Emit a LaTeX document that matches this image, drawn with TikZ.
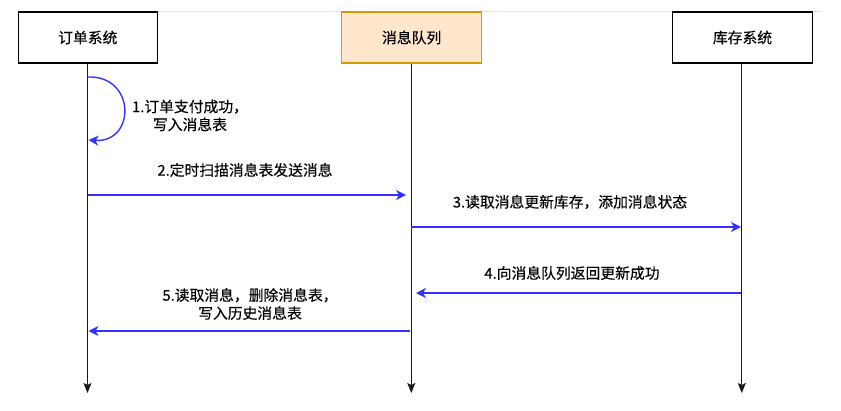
\documentclass[tikz,border=0pt]{standalone}
\usepackage{fontspec}
\setmainfont{Noto Sans CJK SC}
\newfontfamily\lblfont[FakeBold=0.3]{Noto Sans CJK SC}
\usetikzlibrary{arrows.meta}
\definecolor{msgblue}{RGB}{51,51,255}
\definecolor{qfill}{HTML}{FFE6CC}
\definecolor{qdraw}{HTML}{D79B00}
\begin{document}
\begin{tikzpicture}[x=1pt,y=-1pt,
  font=\lblfont\fontsize{14.8}{18}\selectfont,
  actor/.style={draw=black, line width=1.2pt, minimum width=139pt, minimum height=51pt, inner sep=0pt, fill=white},
  lifeline/.style={draw=black!90, line width=1.1pt, -{Stealth[length=10pt,width=8pt,inset=2pt]}},
  msg/.style={draw=msgblue, line width=1.4pt, -{Stealth[length=10pt,width=10pt,inset=3pt]}},
  lbl/.style={align=center, inner sep=0pt}]
\useasboundingbox (0,0) rectangle (841,410);
\draw[black!12, line width=0.8pt] (18,11) -- (820,11);
% actors
\node[actor] (order) at (87.8,37.5) {订单系统};
\node[actor, fill=qfill, draw=qdraw, minimum width=140pt] (queue) at (411.7,37.5) {消息队列};
\node[actor, minimum width=140pt] (stock) at (742.5,37.5) {库存系统};
% lifeline ends
\coordinate (orderEnd) at (87.5,393);
\coordinate (queueEnd) at (411.3,393);
\coordinate (stockEnd) at (741.8,393);
\draw[lifeline] (order.south -| orderEnd) -- (orderEnd);
\draw[lifeline] (queue.south -| queueEnd) -- (queueEnd);
\draw[lifeline] (stock.south -| stockEnd) -- (stockEnd);
% message endpoints
\coordinate (m1a) at (87.5,77);
\coordinate (m1b) at (88.5,140);
\coordinate (m2a) at (87.5,195);
\coordinate (m2b) at (406,195);
\coordinate (m3a) at (411.3,227);
\coordinate (m3b) at (741,227);
\coordinate (m4a) at (741,293);
\coordinate (m4b) at (416,293);
\coordinate (m5a) at (409.5,331);
\coordinate (m5b) at (88.5,331);
% messages
\draw[msg] (m1a) .. controls (136,75) and (136,143) .. (m1b);
\draw[msg] (m2a) -- (m2b);
\draw[msg] (m3a) -- (m3b);
\draw[msg] (m4a) -- (m4b);
\draw[msg] (m5a) -- (m5b);
% labels
\node[lbl] (l1) at (190,115.5) {1.订单支付成功，\\写入消息表};
\node[lbl] (l2) at (245,170) {2.定时扫描消息表发送消息};
\node[lbl] (l3) at (570,202) {3.读取消息更新库存，添加消息状态};
\node[lbl] (l4) at (572,273) {4.向消息队列返回更新成功};
\node[lbl] (l5) at (250,304) {5.读取消息，删除消息表，\\写入历史消息表};
\end{tikzpicture}
\end{document}
